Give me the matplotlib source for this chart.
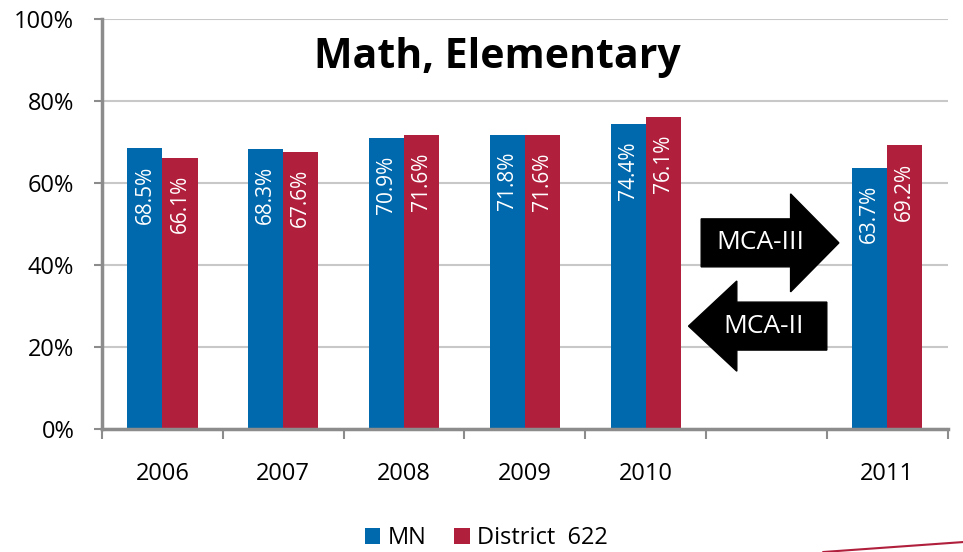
import matplotlib.pyplot as plt
from matplotlib.patches import FancyArrow
from matplotlib.lines import Line2D
import numpy as np

plt.rcParams['font.family'] = ['Open Sans', 'DejaVu Sans']

# data (blank slot between 2010 and 2011 marks the MCA-II -> MCA-III change)
years = ['2006', '2007', '2008', '2009', '2010', '', '2011']
mn = [68.5, 68.3, 70.9, 71.8, 74.4, np.nan, 63.7]
district = [66.1, 67.6, 71.6, 71.6, 76.1, np.nan, 69.2]
series_names = ['MN', 'District  622']

blue = '#0068AC'
red = '#B01F3C'
grey = '#8C8C8C'

fig = plt.figure(figsize=(9.63, 5.52), dpi=100)
ax = fig.add_axes([0.106, 0.2228, 0.878, 0.7428])

x = np.arange(len(years))
w = 0.29
b1 = ax.bar(x - w / 2, mn, w, color=blue, label=series_names[0], zorder=3)
b2 = ax.bar(x + w / 2, district, w, color=red, label=series_names[1], zorder=3)

# value labels, rotated, inside the top of each bar
for bars, vals in [(b1, mn), (b2, district)]:
    for rect, v in zip(bars, vals):
        if np.isnan(v):
            continue
        ax.text(rect.get_x() + rect.get_width() / 2, v - 4.2, f'{v:.1f}%',
                rotation=90, ha='center', va='top', color='white',
                fontsize=15, zorder=4)

ax.set_xlim(-0.5, len(years) - 0.5)
ax.set_ylim(0, 100)
ax.set_yticks(np.arange(0, 101, 20))
ax.set_yticklabels([f'{t}%' for t in range(0, 101, 20)], fontsize=17)
ax.set_xticks(x)
ax.set_xticklabels(years, fontsize=17)
ax.set_xticks(np.arange(-0.5, len(years)), minor=True)
ax.tick_params(axis='x', which='major', length=0, pad=24)
ax.tick_params(axis='x', which='minor', length=7, width=1.5, color=grey)
ax.tick_params(axis='y', length=6, width=1.5, color=grey, pad=14)
ax.yaxis.grid(True, color='#C8C8C8', linewidth=1.5, zorder=0)
ax.set_axisbelow(True)

for s in ['top', 'right']:
    ax.spines[s].set_visible(False)
for s in ['left', 'bottom']:
    ax.spines[s].set_color(grey)
    ax.spines[s].set_linewidth(2.5)
ax.spines['bottom'].set_zorder(5)

ax.text(0.467, 0.905, 'Math, Elementary', transform=ax.transAxes,
        ha='center', va='center', fontsize=29.5, fontweight='bold')

# test-change arrows
ax.add_patch(FancyArrow(4.46, 45.4, 1.14, 0, width=11.7, head_width=23.9,
                        head_length=0.4, length_includes_head=True,
                        color='black', zorder=4))
ax.text(4.95, 45.4, 'MCA-III', color='white', fontsize=19,
        ha='center', va='center', zorder=5)
ax.add_patch(FancyArrow(5.5, 25.1, -1.145, 0, width=11.7, head_width=22,
                        head_length=0.4, length_includes_head=True,
                        color='black', zorder=4))
ax.text(4.98, 25.1, 'MCA-II', color='white', fontsize=19,
        ha='center', va='center', zorder=5)

fig.legend(handles=[b1, b2], loc='lower center', bbox_to_anchor=(0.505, -0.035),
           ncol=2, frameon=False, fontsize=17, handlelength=0.65,
           handleheight=0.65, handletextpad=0.3, columnspacing=1.2)

# decorative slide line
fig.add_artist(Line2D([0.855, 1.0], [0.0, 0.018], color=red, linewidth=1.5,
                      transform=fig.transFigure))

fig.savefig('out.png', dpi=100)
